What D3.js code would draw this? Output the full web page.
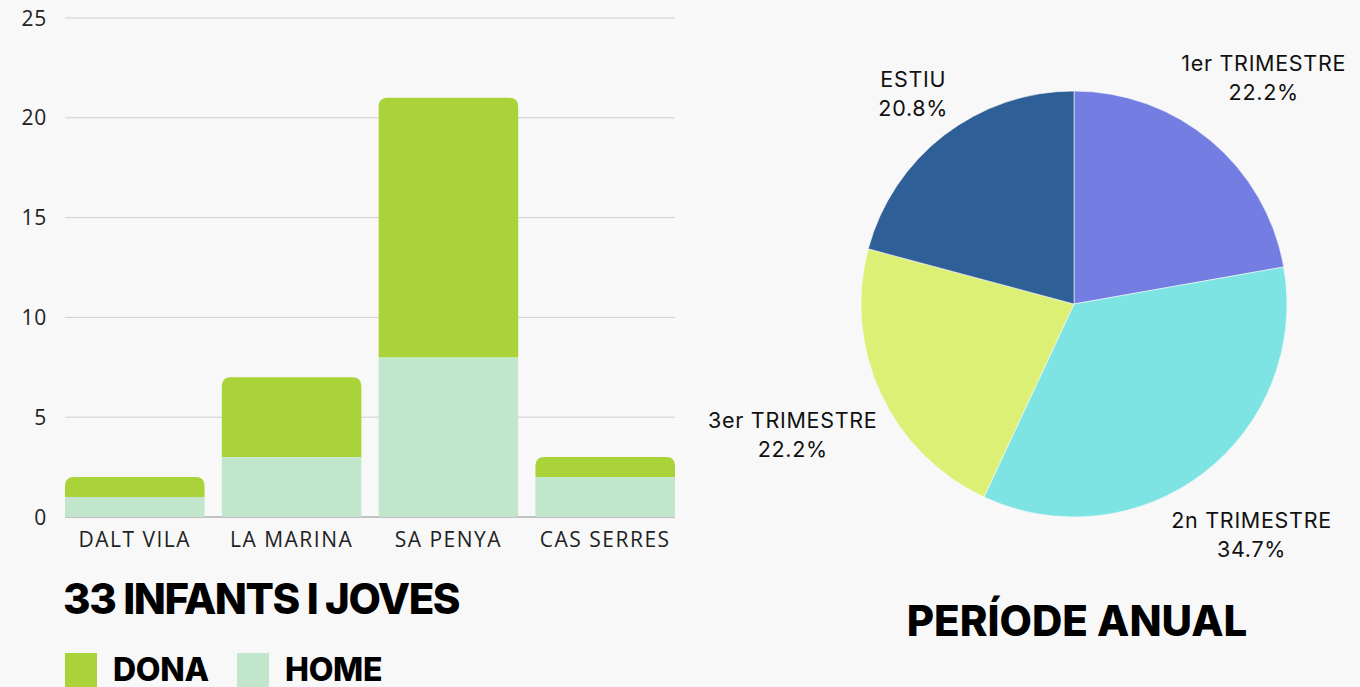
<!DOCTYPE html>
<html>
<head>
<meta charset="utf-8">
<script src="https://cdn.jsdelivr.net/npm/d3@7"></script>
<style>
  html, body { margin: 0; padding: 0; background: #f8f8f8; }
  svg { display: block; }
</style>
</head>
<body>
<script>
// bar chart data
var zones = ["DALT VILA", "LA MARINA", "SA PENYA", "CAS SERRES"];
var home = [1, 3, 8, 2];
var dona = [1, 4, 13, 1];
var yTicks = [0, 5, 10, 15, 20, 25];
var barTitle = "33 INFANTS I JOVES";

// pie data
var periods = ["1er TRIMESTRE", "2n TRIMESTRE", "3er TRIMESTRE", "ESTIU"];
var periodValues = [16, 25, 16, 15];
var pieTitle = "PERÍODE ANUAL";

var colDona = "#a9d339", colHome = "#c2e6cc";
var pieColors = ["#747ee2", "#7ee4e3", "#dcf075", "#2e5f97"];

var W = 1360, H = 687;
var svg = d3.select("body").append("svg").attr("width", W).attr("height", H);
svg.append("rect").attr("width", W).attr("height", H).attr("fill", "#f8f8f8");

var tickFont = "'Open Sans', sans-serif";

// ---- bars
var x = d3.scaleBand().domain(zones).range([65, 675]).paddingInner(0.11).paddingOuter(0);
var y = d3.scaleLinear().domain([0, 25]).range([517, 18]);

var grid = svg.append("g");
grid.selectAll("line").data(yTicks.filter(d => d > 0)).join("line")
  .attr("x1", 65).attr("x2", 675)
  .attr("y1", d => y(d)).attr("y2", d => y(d))
  .attr("stroke", "#cfcfcf").attr("stroke-width", 1);

grid.selectAll("text").data(yTicks).join("text")
  .attr("x", 47).attr("y", d => y(d)).attr("dy", "0.36em")
  .attr("text-anchor", "end")
  .attr("font-family", tickFont).attr("font-size", 21).attr("letter-spacing", 0.8).attr("fill", "#222")
  .text(d => d);

svg.append("line").attr("x1", 65).attr("x2", 675).attr("y1", y(0)).attr("y2", y(0))
  .attr("stroke", "#8a8a8a").attr("stroke-width", 1.2);

var rows = zones.map((z, i) => ({ zone: z, home: home[i], dona: dona[i] }));

function topRounded(x0, y0, w, h, r) {
  r = Math.min(r, h, w / 2);
  return "M" + x0 + "," + (y0 + h) + "V" + (y0 + r) +
    "Q" + x0 + "," + y0 + " " + (x0 + r) + "," + y0 +
    "H" + (x0 + w - r) +
    "Q" + (x0 + w) + "," + y0 + " " + (x0 + w) + "," + (y0 + r) +
    "V" + (y0 + h) + "Z";
}

svg.append("g").selectAll("rect").data(rows).join("rect")
  .attr("x", d => x(d.zone)).attr("width", x.bandwidth())
  .attr("y", d => y(d.home)).attr("height", d => y(0) - y(d.home))
  .attr("fill", colHome);

svg.append("g").selectAll("path").data(rows).join("path")
  .attr("d", d => topRounded(x(d.zone), y(d.home + d.dona), x.bandwidth(),
    y(d.home) - y(d.home + d.dona), 9))
  .attr("fill", colDona);

svg.append("g").selectAll("text").data(zones).join("text")
  .attr("x", d => x(d) + x.bandwidth() / 2).attr("y", 547)
  .attr("text-anchor", "middle")
  .attr("font-family", tickFont).attr("font-size", 21).attr("letter-spacing", 1.5).attr("fill", "#222")
  .text(d => d);

var titleFont = "Inter, sans-serif";
svg.append("text").attr("x", 63).attr("y", 614)
  .attr("font-family", titleFont).attr("font-weight", 800).attr("font-size", 42)
  .attr("letter-spacing", -1.4).attr("fill", "#000")
  .text(barTitle);

// legend
var legend = [{ k: "DONA", c: colDona, x: 65 }, { k: "HOME", c: colHome, x: 237 }];
var lg = svg.append("g").selectAll("g").data(legend).join("g");
lg.append("rect").attr("x", d => d.x).attr("y", 653).attr("width", 32).attr("height", 34).attr("fill", d => d.c);
lg.append("text").attr("x", d => d.x + 48).attr("y", 681)
  .attr("font-family", titleFont).attr("font-weight", 800).attr("font-size", 32)
  .attr("letter-spacing", -0.3).attr("fill", "#000")
  .text(d => d.k);

// ---- pie
var cx = 1074, cy = 304, R = 213;
var total = d3.sum(periodValues);
var pieData = d3.pie().sort(null).value(d => d.v)(periods.map((p, i) => ({ p: p, v: periodValues[i], c: pieColors[i] })));
var arc = d3.arc().innerRadius(0).outerRadius(R);

var pg = svg.append("g").attr("transform", "translate(" + cx + "," + cy + ")");
pg.selectAll("path").data(pieData).join("path")
  .attr("d", arc).attr("fill", d => d.data.c)
  .attr("stroke", "#f8f8f8").attr("stroke-width", 0.6);

var labelFont = "Inter, sans-serif";
var lines = pg.selectAll("g.lab").data(pieData).join("g").attr("class", "lab");
lines.each(function (d) {
  var g = d3.select(this);
  var t1 = g.append("text").attr("text-anchor", "middle").attr("y", -7)
    .attr("font-family", labelFont).attr("font-size", 21.5).attr("letter-spacing", 0.7)
    .attr("fill", "#111").text(d.data.p);
  var t2 = g.append("text").attr("text-anchor", "middle").attr("y", 22)
    .attr("font-family", labelFont).attr("font-size", 21.5).attr("letter-spacing", 0.7)
    .attr("fill", "#111")
    .text(d3.format(".1f")(d.data.v / total * 100) + "%");
  // place the label box so that its support along the bisector touches a ring
  var bw = Math.max(t1.node().getComputedTextLength(), t2.node().getComputedTextLength()) / 2;
  var bh = 25;
  var a = (d.startAngle + d.endAngle) / 2;
  var ux = Math.sin(a), uy = -Math.cos(a);
  var dist = 223 + Math.abs(ux) * bw + Math.abs(uy) * bh;
  g.attr("transform", "translate(" + (ux * dist) + "," + (uy * dist) + ")");
});

svg.append("text").attr("x", 1077).attr("y", 636).attr("text-anchor", "middle")
  .attr("font-family", titleFont).attr("font-weight", 800).attr("font-size", 42)
  .attr("letter-spacing", 0).attr("fill", "#000")
  .text(pieTitle);
</script>
</body>
</html>
